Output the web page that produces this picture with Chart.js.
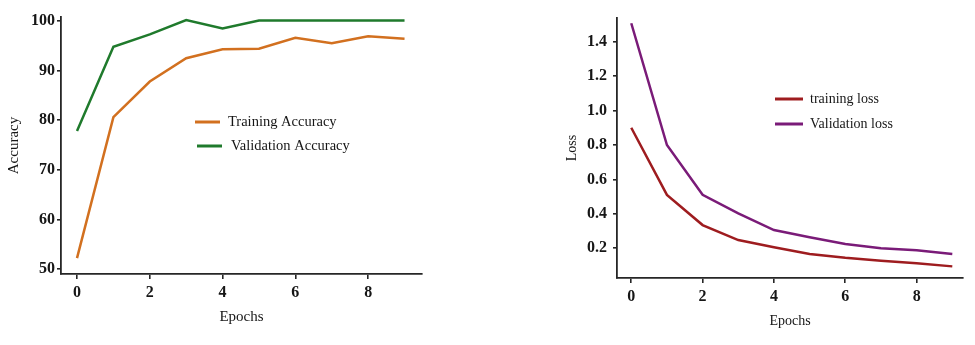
<!DOCTYPE html>
<html>
<head>
<meta charset="utf-8">
<script src="https://cdn.jsdelivr.net/npm/chart.js@4/dist/chart.umd.min.js"></script>
<style>
  html, body { margin: 0; padding: 0; background: #fff; }
  body { width: 975px; height: 345px; position: relative; overflow: hidden; }
  .box { position: absolute; top: 0; height: 345px; }
  #leftBox { left: 0; width: 487px; }
  #rightBox { left: 487px; width: 488px; }
</style>
</head>
<body>
<div class="box" id="leftBox"><canvas id="accChart"></canvas></div>
<div class="box" id="rightBox"><canvas id="lossChart"></canvas></div>
<script>
// ---- data ----
const epochs = [0, 1, 2, 3, 4, 5, 6, 7, 8, 9];
const trainAcc = [52.2, 80.6, 87.8, 92.5, 94.3, 94.4, 96.6, 95.5, 96.9, 96.4];
const valAcc = [77.8, 94.8, 97.3, 100.2, 98.5, 100.1, 100.1, 100.1, 100.1, 100.1];
const trainLoss = [0.9, 0.51, 0.335, 0.248, 0.206, 0.167, 0.145, 0.128, 0.113, 0.095];
const valLoss = [1.507, 0.8, 0.511, 0.403, 0.306, 0.264, 0.225, 0.2, 0.188, 0.167];
const xTickLabels = [0, 2, 4, 6, 8];
const accTickLabels = [50, 60, 70, 80, 90, 100];
const lossTickLabels = [0.2, 0.4, 0.6, 0.8, 1.0, 1.2, 1.4];
const accLabels = ['Training Accuracy', 'Validation Accuracy'];
const lossLabels = ['training loss', 'Validation loss'];

// ---- helpers ----
const SERIF = '"Liberation Serif", "Times New Roman", serif';
const AXIS = '#262626';
const TEXT = '#161616';

function pts(xs, ys) { return xs.map((x, i) => ({ x: x, y: ys[i] })); }

const insideLegend = {
  id: 'insideLegend',
  afterDraw(chart, args, opts) {
    const ctx = chart.ctx;
    ctx.save();
    ctx.font = opts.fontSize + 'px ' + SERIF;
    ctx.textBaseline = 'middle';
    ctx.textAlign = 'left';
    chart.data.datasets.forEach((ds, i) => {
      const it = opts.items[i];
      ctx.strokeStyle = ds.borderColor;
      ctx.lineWidth = 3;
      ctx.beginPath();
      ctx.moveTo(it.x1, it.y);
      ctx.lineTo(it.x2, it.y);
      ctx.stroke();
      ctx.fillStyle = TEXT;
      ctx.fillText(ds.label, it.tx, it.y);
    });
    ctx.restore();
  }
};

function makeChart(id, cfg) {
  return new Chart(document.getElementById(id), {
    type: 'line',
    data: {
      datasets: cfg.series.map((s, i) => ({
        label: cfg.labels[i],
        data: pts(epochs, s),
        borderColor: cfg.colors[i],
        borderWidth: 2.5,
        pointRadius: 0,
        tension: 0,
        fill: false
      }))
    },
    options: {
      responsive: true,
      maintainAspectRatio: false,
      animation: false,
      layout: { padding: { top: cfg.top, right: cfg.right, left: 0, bottom: 0 } },
      plugins: {
        legend: { display: false },
        tooltip: { enabled: false },
        insideLegend: { items: cfg.legendItems, fontSize: cfg.legendFont }
      },
      scales: {
        x: {
          type: 'linear',
          min: cfg.xMin, max: cfg.xMax,
          afterBuildTicks: s => { s.ticks = xTickLabels.map(v => ({ value: v })); },
          afterFit: s => { s.height = cfg.xHeight; },
          ticks: {
            color: TEXT,
            padding: 4,
            maxRotation: 0,
            font: { family: SERIF, size: 16, weight: 'bold' },
            callback: v => String(v)
          },
          grid: { drawOnChartArea: false, drawTicks: true, tickLength: 5, color: AXIS, lineWidth: 1.6 },
          border: { display: true, color: AXIS, width: 1.8 },
          title: {
            display: true, text: 'Epochs', color: TEXT,
            font: { family: SERIF, size: cfg.titleFont },
            padding: { top: 0, bottom: cfg.xTitlePad }
          }
        },
        y: {
          type: 'linear',
          min: cfg.yMin, max: cfg.yMax,
          afterBuildTicks: s => { s.ticks = cfg.yTicks.map(v => ({ value: v })); },
          afterFit: s => { s.width = cfg.yWidth; },
          ticks: {
            color: TEXT,
            padding: cfg.yTickPad,
            font: { family: SERIF, size: 16, weight: 'bold' },
            callback: cfg.yFmt
          },
          grid: { drawOnChartArea: false, drawTicks: true, tickLength: 4, color: AXIS, lineWidth: 1.6 },
          border: { display: true, color: AXIS, width: 1.8 },
          title: {
            display: true, text: cfg.yTitle, color: TEXT,
            font: { family: SERIF, size: cfg.titleFont },
            padding: { top: cfg.yTitlePad, bottom: 0 }
          }
        }
      }
    },
    plugins: [insideLegend]
  });
}

makeChart('accChart', {
  series: [trainAcc, valAcc],
  labels: accLabels,
  colors: ['#d2701f', '#1f7a2c'],
  top: 17, right: 65,
  xMin: -0.44, xMax: 9.48, xHeight: 71, xTitlePad: 19,
  yMin: 49, yMax: 100.8, yWidth: 61, yTickPad: 2, yTitlePad: 5,
  yTicks: accTickLabels, yFmt: v => String(v),
  yTitle: 'Accuracy', titleFont: 15,
  legendFont: 14.5,
  legendItems: [
    { x1: 195, x2: 220, y: 122, tx: 228 },
    { x1: 197, x2: 222, y: 146, tx: 231 }
  ]
});

makeChart('lossChart', {
  series: [trainLoss, valLoss],
  labels: lossLabels,
  colors: ['#9e1c1f', '#7a1b78'],
  top: 18, right: 12,
  xMin: -0.4, xMax: 9.3, xHeight: 67, xTitlePad: 15,
  yMin: 0.0275, yMax: 1.5376, yWidth: 130, yTickPad: 6, yTitlePad: 77,
  yTicks: lossTickLabels, yFmt: v => Number(v).toFixed(1),
  yTitle: 'Loss', titleFont: 14,
  legendFont: 14,
  legendItems: [
    { x1: 288, x2: 316, y: 99, tx: 323 },
    { x1: 288, x2: 316, y: 124, tx: 323 }
  ]
});
</script>
</body>
</html>
